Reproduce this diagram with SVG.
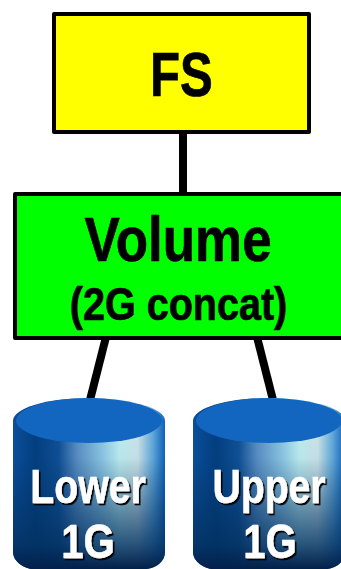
<svg xmlns="http://www.w3.org/2000/svg" width="341" height="569" viewBox="0 0 341 569">
<style>
.box{stroke:#000;stroke-width:4;stroke-linejoin:round}
.conn{stroke:#000;stroke-width:8;fill:none}
text{font-family:"Liberation Sans",Arial,sans-serif;font-weight:700;text-anchor:middle}
.k{fill:#000;stroke:#000;stroke-width:.7}
.w{fill:#fff;stroke:#fff;stroke-width:.5;font-size:49px;filter:url(#sh)}
</style>
<defs>
<filter id="sh" x="-10%" y="-10%" width="120%" height="120%">
<feDropShadow dx="2" dy="2" stdDeviation="0.300" flood-color="#000"/>
</filter>
<linearGradient id="body" x1="0" x2="1" y1="0" y2="0">
<stop offset="0" stop-color="#0a4f9c"/>
<stop offset=".15" stop-color="#033f80"/>
<stop offset=".3" stop-color="#0f5096"/>
<stop offset=".42" stop-color="#5a8fc4"/>
<stop offset=".58" stop-color="#8cc6e4"/>
<stop offset=".7" stop-color="#bff0f2"/>
<stop offset=".82" stop-color="#cfe6ea"/>
<stop offset=".92" stop-color="#62aadc"/>
<stop offset="1" stop-color="#0f62bc"/>
</linearGradient>
<linearGradient id="shade" x1="0" x2="0" y1="0" y2="1">
<stop offset="0" stop-color="#03305f" stop-opacity="0"/>
<stop offset=".35" stop-color="#03305f" stop-opacity=".05"/>
<stop offset=".65" stop-color="#03305f" stop-opacity=".5"/>
<stop offset=".85" stop-color="#03305f" stop-opacity=".8"/>
<stop offset="1" stop-color="#02204a" stop-opacity="1"/>
</linearGradient>
<path id="cyl" d="M0 421V552C0 562 12 569 20 569H132C142 569 152 562 152 552V421C152 408 118 398 76 398S0 408 0 421Z"/>
</defs>
<g id="connectors">
<line class="conn" x1="183" y1="130" x2="183" y2="195"/>
<line class="conn" x1="106" y1="337" x2="90" y2="400"/>
<line class="conn" x1="257" y1="337" x2="273" y2="400"/>
</g>
<g id="fs">
<rect class="box" x="54" y="14" width="255" height="118" fill="#ff0"/>
<text class="k" transform="translate(181.500 96) scale(.78 1)" font-size="63">FS</text>
</g>
<g id="volume">
<rect class="box" x="15" y="194" width="330" height="144" fill="#0f0"/>
<text class="k" transform="translate(178 261) scale(.84 1)" font-size="63">Volume</text>
<text class="k" transform="translate(178.500 320) scale(.86 1)" font-size="46">(2G concat)</text>
</g>
<g id="lower">
<g transform="translate(13 0)">
<use href="#cyl" fill="url(#body)"/>
<use href="#cyl" fill="url(#shade)"/>
<ellipse cx="76" cy="420.500" rx="73" ry="22.500" fill="#1366c0"/>
</g>
<text class="w" transform="translate(88 503) scale(.8 1)">Lower</text>
<text class="w" transform="translate(88 558) scale(.82 1)">1G</text>
</g>
<g id="upper">
<g transform="translate(193 0)">
<use href="#cyl" fill="url(#body)"/>
<use href="#cyl" fill="url(#shade)"/>
<ellipse cx="76" cy="420.500" rx="73" ry="22.500" fill="#1366c0"/>
</g>
<text class="w" transform="translate(269 503) scale(.8 1)">Upper</text>
<text class="w" transform="translate(270 558) scale(.82 1)">1G</text>
</g>
</svg>
